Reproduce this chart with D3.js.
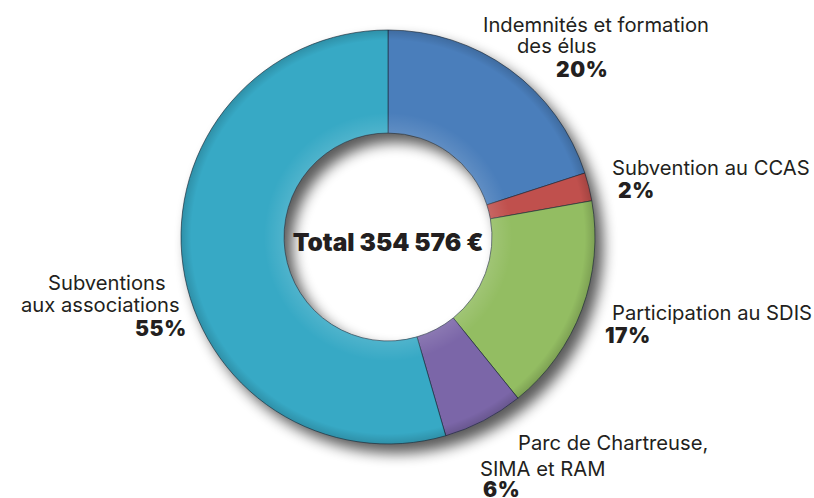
<!DOCTYPE html>
<html><head><meta charset="utf-8">
<script src="https://cdn.jsdelivr.net/npm/d3@7"></script>
<style>
html,body{margin:0;padding:0;background:#fff;}
svg{display:block;}
</style></head>
<body>
<svg id="chart" width="814" height="498"></svg>
<script>
// ---- data ----
const categories = ["Indemnités et formation des élus", "Subvention au CCAS", "Participation au SDIS", "Parc de Chartreuse, SIMA et RAM", "Subventions aux associations"];
const shares = [20, 2.2, 17, 6.3, 54.5];
const pctLabels = ["20%", "2%", "17%", "6%", "55%"];
const labelLines = [
  ["Indemnités et formation", "des élus"],
  ["Subvention au CCAS"],
  ["Participation au SDIS"],
  ["Parc de Chartreuse,", "SIMA et RAM"],
  ["Subventions", "aux associations"]
];
const colors = ["#4a7ebb", "#c0504d", "#93bd62", "#7b66a8", "#37a9c5"];
const totalLabel = "Total 354 576 €";

// ---- layout (positions only) ----
const cx = 388, cy = 237, rOuter = 207, rInner = 104;
const labelLayout = [
  {lines: [[483, 32], [517, 53]], pct: [556, 77]},
  {lines: [[612, 175]], pct: [618, 198]},
  {lines: [[612, 320]], pct: [605, 343]},
  {lines: [[518, 450], [480, 476]], pct: [483, 497]},
  {lines: [[48, 290], [21, 312]], pct: [135, 336]}
];

const svg = d3.select("#chart");
const defs = svg.append("defs");
const f = defs.append("filter").attr("id", "shadow")
  .attr("color-interpolation-filters", "sRGB")
  .attr("filterUnits", "userSpaceOnUse")
  .attr("x", -260).attr("y", -260).attr("width", 540).attr("height", 540);
f.append("feGaussianBlur").attr("in", "SourceAlpha").attr("stdDeviation", 7).attr("result", "b");
f.append("feOffset").attr("in", "b").attr("dx", 8).attr("dy", 9).attr("result", "o");
f.append("feComponentTransfer").attr("in", "o").attr("result", "o2")
  .append("feFuncA").attr("type", "linear").attr("slope", 0.65);
const m = f.append("feMerge");
m.append("feMergeNode").attr("in", "o2");
m.append("feMergeNode").attr("in", "SourceGraphic");

const rg = defs.append("radialGradient").attr("id", "shade")
  .attr("gradientUnits", "userSpaceOnUse").attr("cx", 0).attr("cy", 0).attr("r", rOuter);
rg.append("stop").attr("offset", rInner / rOuter).attr("stop-color", "#fff").attr("stop-opacity", 0.12);
rg.append("stop").attr("offset", 0.6).attr("stop-color", "#fff").attr("stop-opacity", 0);
rg.append("stop").attr("offset", 0.95).attr("stop-color", "#000").attr("stop-opacity", 0);
rg.append("stop").attr("offset", 1).attr("stop-color", "#000").attr("stop-opacity", 0.15);

const pie = d3.pie().sort(null).value(d => d);
const arc = d3.arc().innerRadius(rInner).outerRadius(rOuter);
const arcs = pie(shares);

const g = svg.append("g").attr("transform", `translate(${cx},${cy})`);
const ring = g.append("g").attr("filter", "url(#shadow)");
ring.selectAll("path.slice").data(arcs).join("path")
  .attr("class", "slice")
  .attr("d", arc)
  .attr("fill", (d, i) => colors[i])
  .attr("stroke", "#1d2b3a").attr("stroke-width", 0.9).attr("stroke-opacity", 0.7);
g.append("path")
  .attr("d", d3.arc().innerRadius(rInner).outerRadius(rOuter).startAngle(0).endAngle(2 * Math.PI)())
  .attr("fill", "url(#shade)").attr("pointer-events", "none");

// center text
svg.append("text").attr("x", cx).attr("y", 251)
  .attr("text-anchor", "middle")
  .attr("font-family", "Inter, sans-serif").attr("font-weight", 900)
  .attr("font-size", 24.5).attr("fill", "#231f20")
  .text(totalLabel);

// labels
const lab = svg.append("g").attr("fill", "#231f20");
labelLines.forEach((lines, i) => {
  const L = labelLayout[i];
  lines.forEach((t, j) => {
    lab.append("text").attr("x", L.lines[j][0]).attr("y", L.lines[j][1])
      .attr("font-family", "Inter, sans-serif").attr("font-weight", 400)
      .attr("font-size", 20.2).text(t);
  });
  lab.append("text").attr("x", L.pct[0]).attr("y", L.pct[1])
    .attr("font-family", "Inter, sans-serif").attr("font-weight", 900)
    .attr("font-size", 21).attr("letter-spacing", 0.6).text(pctLabels[i]);
});
</script>
</body></html>
